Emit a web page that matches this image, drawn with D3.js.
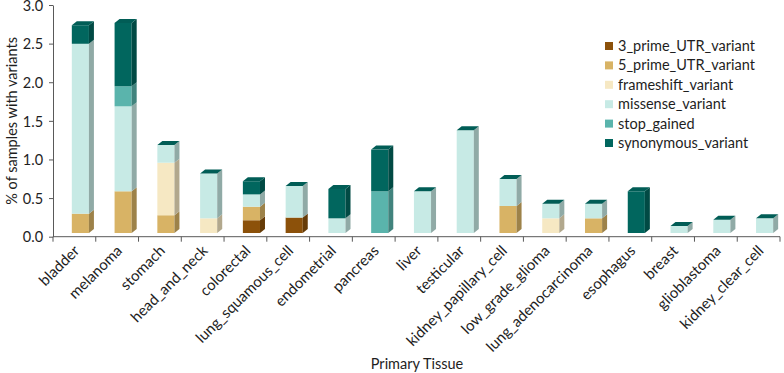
<!DOCTYPE html>
<html>
<head>
<meta charset="utf-8">
<script src="https://cdn.jsdelivr.net/npm/d3@7"></script>
<style>
  body { margin: 0; background: #fff; }
  text { font-family: Lato, "Open Sans", sans-serif; fill: #1e1e1e; }
</style>
</head>
<body>
<div id="chart"></div>
<script>
// categories and stacked series (% of samples with variants)
const tissues = ["bladder", "melanoma", "stomach", "head_and_neck", "colorectal",
  "lung_squamous_cell", "endometrial", "pancreas", "liver", "testicular",
  "kidney_papillary_cell", "low_grade_glioma", "lung_adenocarcinoma", "esophagus",
  "breast", "glioblastoma", "kidney_clear_cell"];
const prime3UTR   = [0, 0, 0, 0, 0.165, 0.20, 0, 0, 0, 0, 0, 0, 0, 0, 0, 0, 0];
const prime5UTR   = [0.25, 0.54, 0.23, 0, 0.175, 0, 0, 0, 0, 0, 0.35, 0, 0.19, 0, 0, 0, 0];
const frameshift  = [0, 0, 0.68, 0.19, 0, 0, 0, 0, 0, 0, 0, 0.19, 0, 0, 0, 0, 0];
const missense    = [2.20, 1.10, 0.23, 0.58, 0.16, 0.41, 0.19, 0, 0.54, 1.33, 0.35, 0.19, 0.19, 0, 0.09, 0.17, 0.19];
const stopGained  = [0, 0.26, 0, 0, 0, 0, 0, 0.54, 0, 0, 0, 0, 0, 0, 0, 0, 0];
const synonymous  = [0.24, 0.82, 0, 0, 0.17, 0, 0.38, 0.54, 0, 0, 0, 0, 0, 0.54, 0, 0, 0];
const yTicks = [0, 0.5, 1.0, 1.5, 2.0, 2.5, 3.0];

const keys = ["3_prime_UTR_variant", "5_prime_UTR_variant", "frameshift_variant",
  "missense_variant", "stop_gained", "synonymous_variant"];
const seriesVals = [prime3UTR, prime5UTR, frameshift, missense, stopGained, synonymous];
const colors = ["#8c510a", "#d8b365", "#f6e8c3", "#c7eae5", "#5ab4ac", "#01665e"];

const rows = tissues.map((t, i) => {
  const r = { tissue: t };
  keys.forEach((k, j) => r[k] = seriesVals[j][i]);
  return r;
});

const width = 784, height = 373;
const margin = { top: 5, right: 4, bottom: 136, left: 53 };
const depthX = 5, depthY = 4, lift = 3.7;

const svg = d3.select("#chart").append("svg")
  .attr("width", width).attr("height", height);

const x = d3.scaleBand()
  .domain(tissues)
  .range([margin.left, width - margin.right]);

const y = d3.scaleLinear()
  .domain([0, 3])
  .range([height - margin.bottom - 0.3, margin.top]);

const color = d3.scaleOrdinal().domain(keys).range(colors);

const stacked = d3.stack().keys(keys)(rows);

// bar front geometry
const bx = t => x(t) + x.bandwidth() * 0.44;
const bw = x.bandwidth() * 0.40;

const bars = svg.append("g");
stacked.forEach(layer => {
  const c = color(layer.key);
  layer.forEach(d => {
    if (d[1] - d[0] <= 0) return;
    const x0 = bx(d.data.tissue), x1 = x0 + bw;
    const yt = y(d[1]) - lift, yb = y(d[0]) - lift;
    bars.append("rect")
      .attr("x", x0).attr("y", yt)
      .attr("width", bw).attr("height", yb - yt)
      .attr("fill", c);
    bars.append("path")
      .attr("d", `M${x1},${yt}L${x1 + depthX},${yt - depthY}L${x1 + depthX},${yb - depthY}L${x1},${yb}Z`)
      .attr("fill", d3.color(c).darker(0.9));
  });
});

// top face of each stack (drawn by the zero-height synonymous segment on top)
const topLayer = stacked[stacked.length - 1];
bars.selectAll("path.top")
  .data(topLayer)
  .enter().append("path")
  .attr("class", "top")
  .attr("d", d => {
    const x0 = bx(d.data.tissue), x1 = x0 + bw, yt = y(d[1]) - lift;
    return `M${x0},${yt}L${x0 + depthX},${yt - depthY}L${x1 + depthX},${yt - depthY}L${x1},${yt}Z`;
  })
  .attr("fill", d3.color(colors[5]).darker(0.25));

// y axis
const yAxis = svg.append("g")
  .attr("transform", `translate(${margin.left},0)`)
  .call(d3.axisLeft(y).tickValues(yTicks).tickFormat(d3.format(".1f")).tickSize(4).tickSizeOuter(0));
yAxis.selectAll("text").attr("font-size", 14.5).attr("dx", "-0.2em").attr("dy", "0.36em");
yAxis.selectAll("line, path").attr("stroke", "#595959");

// x axis
const xTickPos = tissues.map(t => x(t)).concat([width - margin.right]);
const xAxis = svg.append("g")
  .attr("transform", `translate(0,${y(0)})`);
xAxis.append("line")
  .attr("x1", margin.left).attr("x2", width - margin.right)
  .attr("stroke", "#595959");
xAxis.selectAll("line.tick")
  .data(xTickPos)
  .enter().append("line")
  .attr("class", "tick")
  .attr("x1", d => d).attr("x2", d => d)
  .attr("y1", 0).attr("y2", 5)
  .attr("stroke", "#595959");
xAxis.selectAll("text.lbl")
  .data(tissues)
  .enter().append("text")
  .attr("class", "lbl")
  .attr("font-size", 15)
  .attr("text-anchor", "end")
  .attr("transform", d => `translate(${x(d) + x.bandwidth() / 2 + 6},${15}) rotate(-45)`)
  .text(d => d);

// axis titles
svg.append("text")
  .attr("transform", `translate(17,${(y(0) + y(3)) / 2}) rotate(-90)`)
  .attr("text-anchor", "middle")
  .attr("font-size", 14.5)
  .text("% of samples with variants");

svg.append("text")
  .attr("x", 417).attr("y", 369)
  .attr("text-anchor", "middle")
  .attr("font-size", 14.5)
  .text("Primary Tissue");

// legend
const legend = svg.append("g").attr("transform", "translate(605,46)");
keys.forEach((k, i) => {
  legend.append("rect")
    .attr("x", 0).attr("y", i * 19.4 - 4)
    .attr("width", 8).attr("height", 8)
    .attr("fill", colors[i]);
  legend.append("text")
    .attr("x", 13).attr("y", i * 19.4)
    .attr("dy", "0.35em")
    .attr("font-size", 14.5)
    .text(k);
});
</script>
</body>
</html>
